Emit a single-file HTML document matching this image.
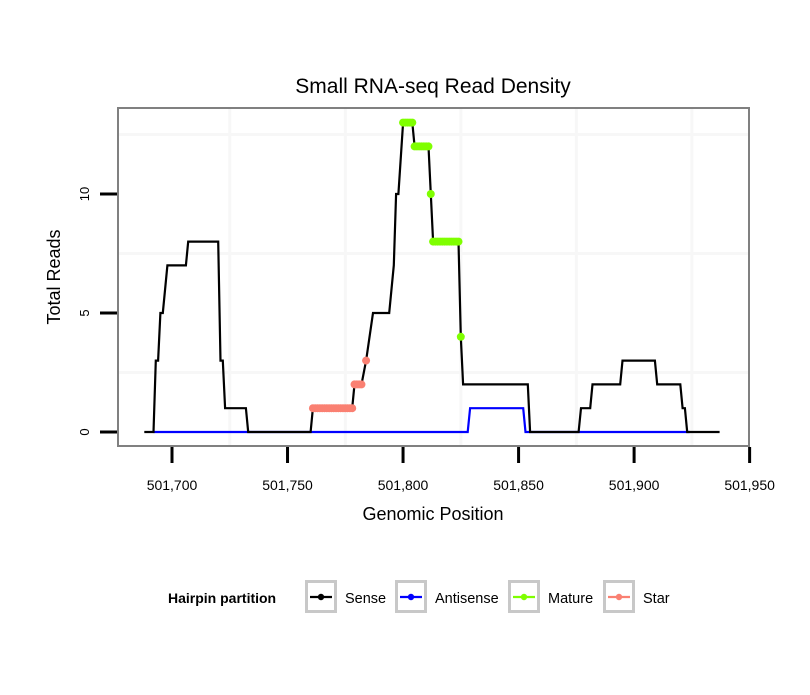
<!DOCTYPE html>
<html><head><meta charset="utf-8"><style>
body{margin:0;background:#fff;font-family:"Liberation Sans",sans-serif}
</style></head><body>
<svg id="c" width="810" height="690" xmlns="http://www.w3.org/2000/svg">
<rect width="810" height="690" fill="#fff"/>
<text x="433" y="93" font-size="21" text-anchor="middle">Small RNA-seq Read Density</text>
<g id="grid"></g>
<g id="series"></g>
<rect x="118" y="108" width="631" height="338" fill="none" stroke="#808080" stroke-width="2"/>
<g id="axes"></g>
<text x="433" y="520" font-size="18" text-anchor="middle">Genomic Position</text>
<text transform="translate(60,277) rotate(-90)" font-size="18" text-anchor="middle">Total Reads</text>
<g>
<text x="168" y="603" font-size="14" font-weight="bold">Hairpin partition</text>
<g id="legend"></g>
</g>
</svg>
<script>
const senseX=[501688,501692,501693,501694,501695,501696,501698,501706,501707,501720,501721,501722,501723,501732,501733,501760,501761,501778,501779,501782,501784,501787,501794,501796,501797,501798,501800,501804,501805,501811,501812,501813,501824,501825,501826,501854,501855,501876,501877,501881,501882,501894,501895,501909,501910,501920,501921,501922,501923,501937];
const senseY=[0,0,3,3,5,5,7,7,8,8,3,3,1,1,0,0,1,1,2,2,3,5,5,7,10,10,13,13,12,12,10,8,8,4,2,2,0,0,1,1,2,2,3,3,2,2,1,1,0,0];
const antiX=[501692,501828,501829,501852,501853,501924];
const antiY=[0,0,1,1,0,0];
const matureX=[501800,501801,501802,501803,501804,501805,501806,501807,501808,501809,501810,501811,501812,501813,501814,501815,501816,501817,501818,501819,501820,501821,501822,501823,501824,501825];
const matureY=[13,13,13,13,13,12,12,12,12,12,12,12,10,8,8,8,8,8,8,8,8,8,8,8,8,4];
const starX=[501761,501762,501763,501764,501765,501766,501767,501768,501769,501770,501771,501772,501773,501774,501775,501776,501777,501778,501779,501780,501781,501782,501784];
const starY=[1,1,1,1,1,1,1,1,1,1,1,1,1,1,1,1,1,1,2,2,2,2,3];
const xTicks=[501700,501750,501800,501850,501900,501950];
const xTickLabels=["501,700","501,750","501,800","501,850","501,900","501,950"];
const yTicks=[0,5,10];
const yTickLabels=["0","5","10"];
const legendNames=["Sense","Antisense","Mature","Star"];
const legendColors=["#000000","#0000ff","#7fff00","#fa8072"];

const NS="http://www.w3.org/2000/svg";
const sx=v=>172+(v-501700)*2.3105;
const sy=v=>432-v*23.8;
function mk(tag,attrs,parent){const e=document.createElementNS(NS,tag);for(const k in attrs)e.setAttribute(k,attrs[k]);parent.appendChild(e);return e;}
const grid=document.getElementById('grid'),ser=document.getElementById('series'),ax=document.getElementById('axes'),lg=document.getElementById('legend');
for(let i=0;i<xTicks.length;i++){const m=xTicks[i]-25;const x=sx(m);if(x>118&&x<749){const l=mk('line',{x1:x,x2:x,y1:109,y2:445,stroke:'#f7f7f7','stroke-width':3},grid);

}}
[2.5,7.5,12.5].forEach(v=>{const l=mk('line',{x1:119,x2:748,y1:sy(v),y2:sy(v),stroke:'#f7f7f7','stroke-width':3},grid);

});
function line(xs,ys,color,name){const d=xs.map((x,i)=>(i?'L':'M')+sx(x).toFixed(1)+','+sy(ys[i]).toFixed(1)).join('');const p=mk('path',{d:d,fill:'none',stroke:color,'stroke-width':2.2},ser);

}
line(antiX,antiY,'#0000ff','antisense-line');
line(senseX,senseY,'#000000','sense-line');
function pts(xs,ys,color,name){xs.forEach((x,i)=>{const c=mk('circle',{cx:sx(x),cy:sy(ys[i]),r:4,fill:color},ser);

});}
pts(starX,starY,'#fa8072','star-point');
pts(matureX,matureY,'#7fff00','mature-point');
xTicks.forEach((t,i)=>{const x=sx(t);const l=mk('line',{x1:x,x2:x,y1:447,y2:463,stroke:'#000','stroke-width':3},ax);


const tx=mk('text',{x:x,y:490,'font-size':14,'text-anchor':'middle'},ax);tx.textContent=xTickLabels[i];

});
yTicks.forEach((t,i)=>{const y=sy(t);const l=mk('line',{x1:100,x2:117,y1:y,y2:y,stroke:'#000','stroke-width':3},ax);


const tx=mk('text',{transform:`translate(89,${y}) rotate(-90)`,'font-size':13,'text-anchor':'middle'},ax);tx.textContent=yTickLabels[i];

});
const lgX=[305,395,508,603];
legendNames.forEach((n,i)=>{const g=mk('g',{},lg);


mk('rect',{x:lgX[i]+1.5,y:581.5,width:29,height:30,fill:'#fff',stroke:'#c8c8c8','stroke-width':3},g);
mk('line',{x1:lgX[i]+5,x2:lgX[i]+27,y1:597,y2:597,stroke:legendColors[i],'stroke-width':2.2},g);
mk('circle',{cx:lgX[i]+16,cy:597,r:3.2,fill:legendColors[i]},g);
const t=mk('text',{x:lgX[i]+40,y:603,'font-size':14.5},g);t.textContent=n;});
</script>
</body></html>
